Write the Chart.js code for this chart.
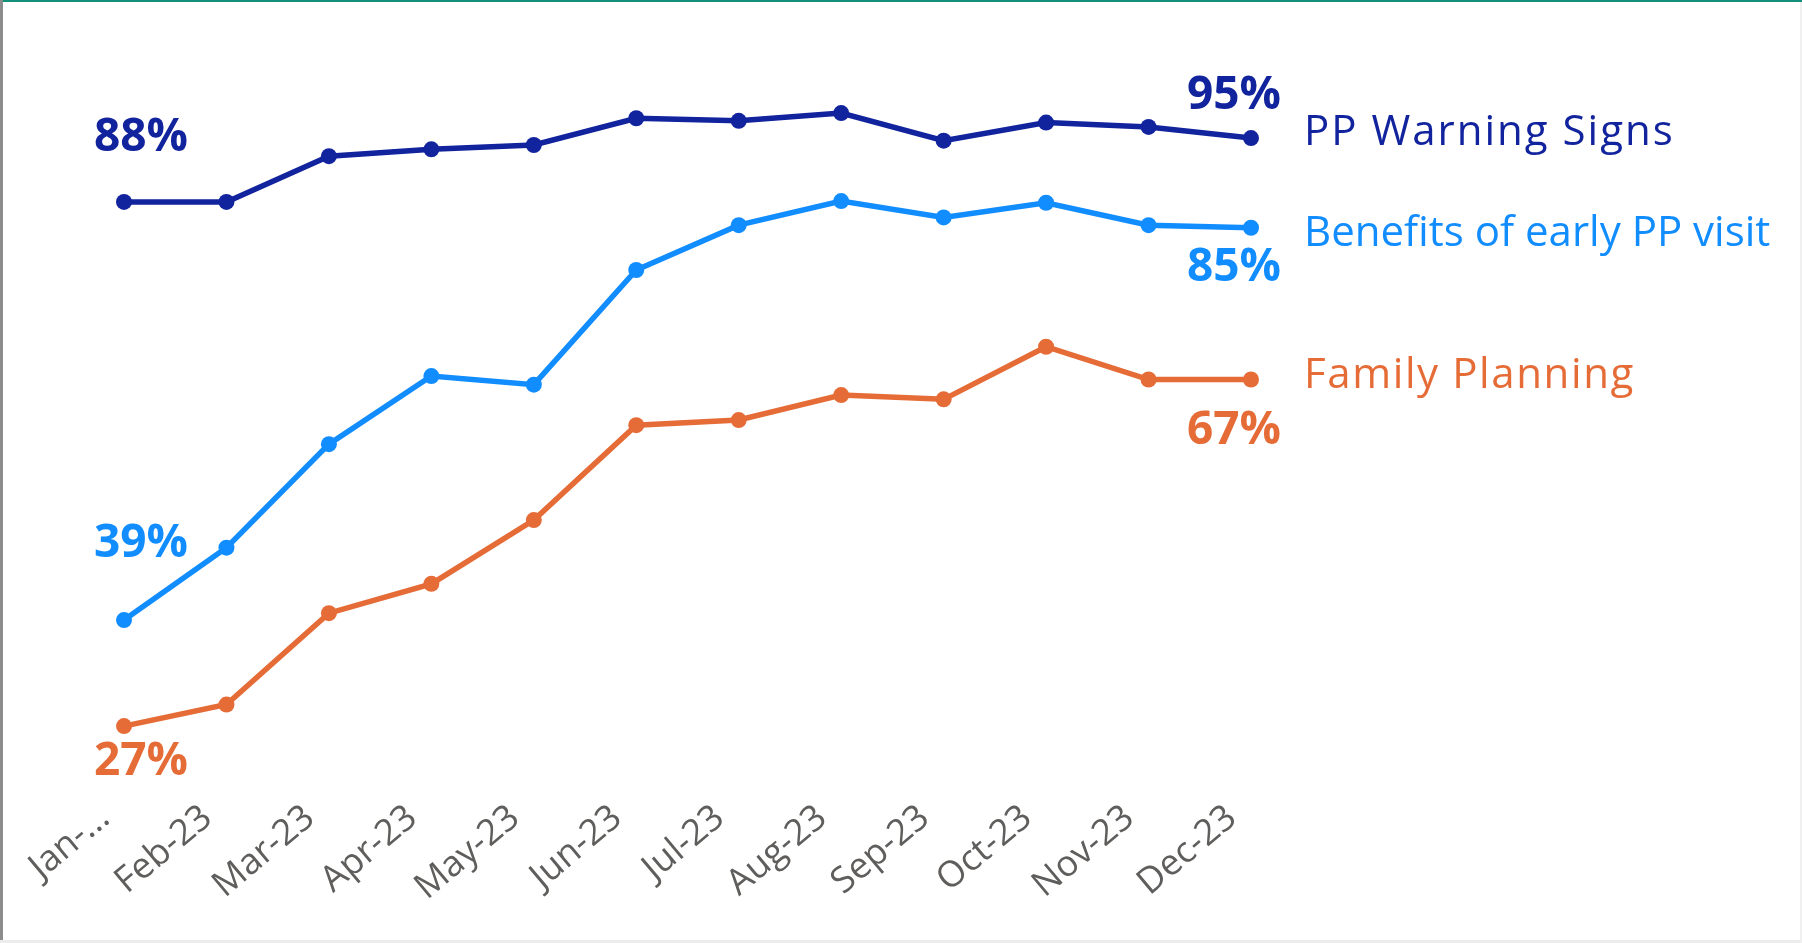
<!DOCTYPE html>
<html>
<head>
<meta charset="utf-8">
<script src="https://cdn.jsdelivr.net/npm/chart.js@4.4.0/dist/chart.umd.min.js"></script>
<style>
    html, body { margin: 0; padding: 0; background: #fff; }
    #wrap { position: relative; width: 1802px; height: 943px; overflow: hidden; }
    .edge { position: absolute; }
    #edge-top { left: 0; top: 0; width: 1802px; height: 2px; background: #12907a; }
    #edge-left { left: 0; top: 0; width: 3px; height: 943px; background: #8c8c8c; }
    #edge-bottom { left: 0; bottom: 0; width: 1802px; height: 3px; background: #ececec; }
    #edge-right { right: 0; top: 2px; width: 2px; height: 941px; background: #f0f0f0; }
</style>
</head>
<body>
<div id="wrap">
    <canvas id="trendChart" width="1802" height="943"></canvas>
    <div class="edge" id="edge-top"></div>
    <div class="edge" id="edge-left"></div>
    <div class="edge" id="edge-bottom"></div>
    <div class="edge" id="edge-right"></div>
</div>
<script>
// Month labels (first one is truncated in the original)
const months = ['Jan-...', 'Feb-23', 'Mar-23', 'Apr-23', 'May-23', 'Jun-23',
                'Jul-23', 'Aug-23', 'Sep-23', 'Oct-23', 'Nov-23', 'Dec-23'];

// Series names
const seriesNames = ['PP Warning Signs', 'Benefits of early PP visit', 'Family Planning'];

// Values in percent
const warningSigns = [87.6, 87.6, 92.9, 93.7, 94.2, 97.3, 97.0, 97.9, 94.7, 96.8, 96.3, 95.0];
const earlyVisit = [39.1, 47.5, 59.5, 67.4, 66.4, 79.7, 84.9, 87.7, 85.8, 87.5, 84.9, 84.6];
const familyPlanning = [26.8, 29.3, 39.9, 43.3, 50.7, 61.7, 62.3, 65.2, 64.7, 70.8, 67.0, 67.0];

const seriesColors = ['#12239E', '#118DFF', '#E66C37'];

// offsets for the first/last value labels and the series name (px)
const firstLabelDy = [-64, -76, 36];
const lastLabelDy = [-42, 40, 51];
const nameDy = [-5, 6, -3];
const nameSpacing = ['2px', '0px', '1.6px'];

// Draws start/end percentages and series names next to the last point
const endLabels = {
    id: 'endLabels',
    afterDatasetsDraw(chart) {
        const ctx = chart.ctx;
        ctx.save();
        chart.data.datasets.forEach((ds, i) => {
            const pts = chart.getDatasetMeta(i).data;
            const first = pts[0];
            const last = pts[pts.length - 1];
            ctx.fillStyle = ds.borderColor;
            ctx.textBaseline = 'middle';

            ctx.letterSpacing = '0px';
            ctx.font = 'bold 46px "Open Sans"';
            ctx.textAlign = 'left';
            ctx.fillText(Math.round(ds.data[0]) + '%', first.x - 30, first.y + firstLabelDy[i]);
            ctx.textAlign = 'right';
            ctx.fillText(Math.round(ds.data[ds.data.length - 1]) + '%', last.x + 30, last.y + lastLabelDy[i]);

            ctx.font = '42px "Open Sans"';
            ctx.letterSpacing = nameSpacing[i];
            ctx.textAlign = 'left';
            ctx.fillText(ds.label, last.x + 53, last.y + nameDy[i]);
        });
        ctx.restore();
    }
};

function makeDataset(label, data, color) {
    return {
        label: label,
        data: data,
        borderColor: color,
        backgroundColor: color,
        borderWidth: 5.5,
        pointRadius: 8,
        pointHoverRadius: 8,
        pointBorderWidth: 0,
        tension: 0
    };
}

new Chart(document.getElementById('trendChart').getContext('2d'), {
    type: 'line',
    data: {
        labels: months,
        datasets: [
            makeDataset(seriesNames[0], warningSigns, seriesColors[0]),
            makeDataset(seriesNames[1], earlyVisit, seriesColors[1]),
            makeDataset(seriesNames[2], familyPlanning, seriesColors[2])
        ]
    },
    options: {
        responsive: false,
        devicePixelRatio: 1,
        animation: false,
        layout: {
            padding: { left: 124, right: 551, top: 95, bottom: 22 }
        },
        plugins: {
            legend: { display: false },
            tooltip: { enabled: false }
        },
        scales: {
            x: {
                offset: false,
                grid: { display: false, drawTicks: false },
                border: { display: false },
                ticks: {
                    color: '#5F5E5C',
                    font: { family: 'Open Sans', size: 36 },
                    minRotation: 40,
                    maxRotation: 40,
                    autoSkip: false,
                    padding: 12,
                    labelOffset: -19
                }
            },
            y: {
                display: false,
                min: 20,
                max: 100
            }
        }
    },
    plugins: [endLabels]
});
</script>
</body>
</html>
